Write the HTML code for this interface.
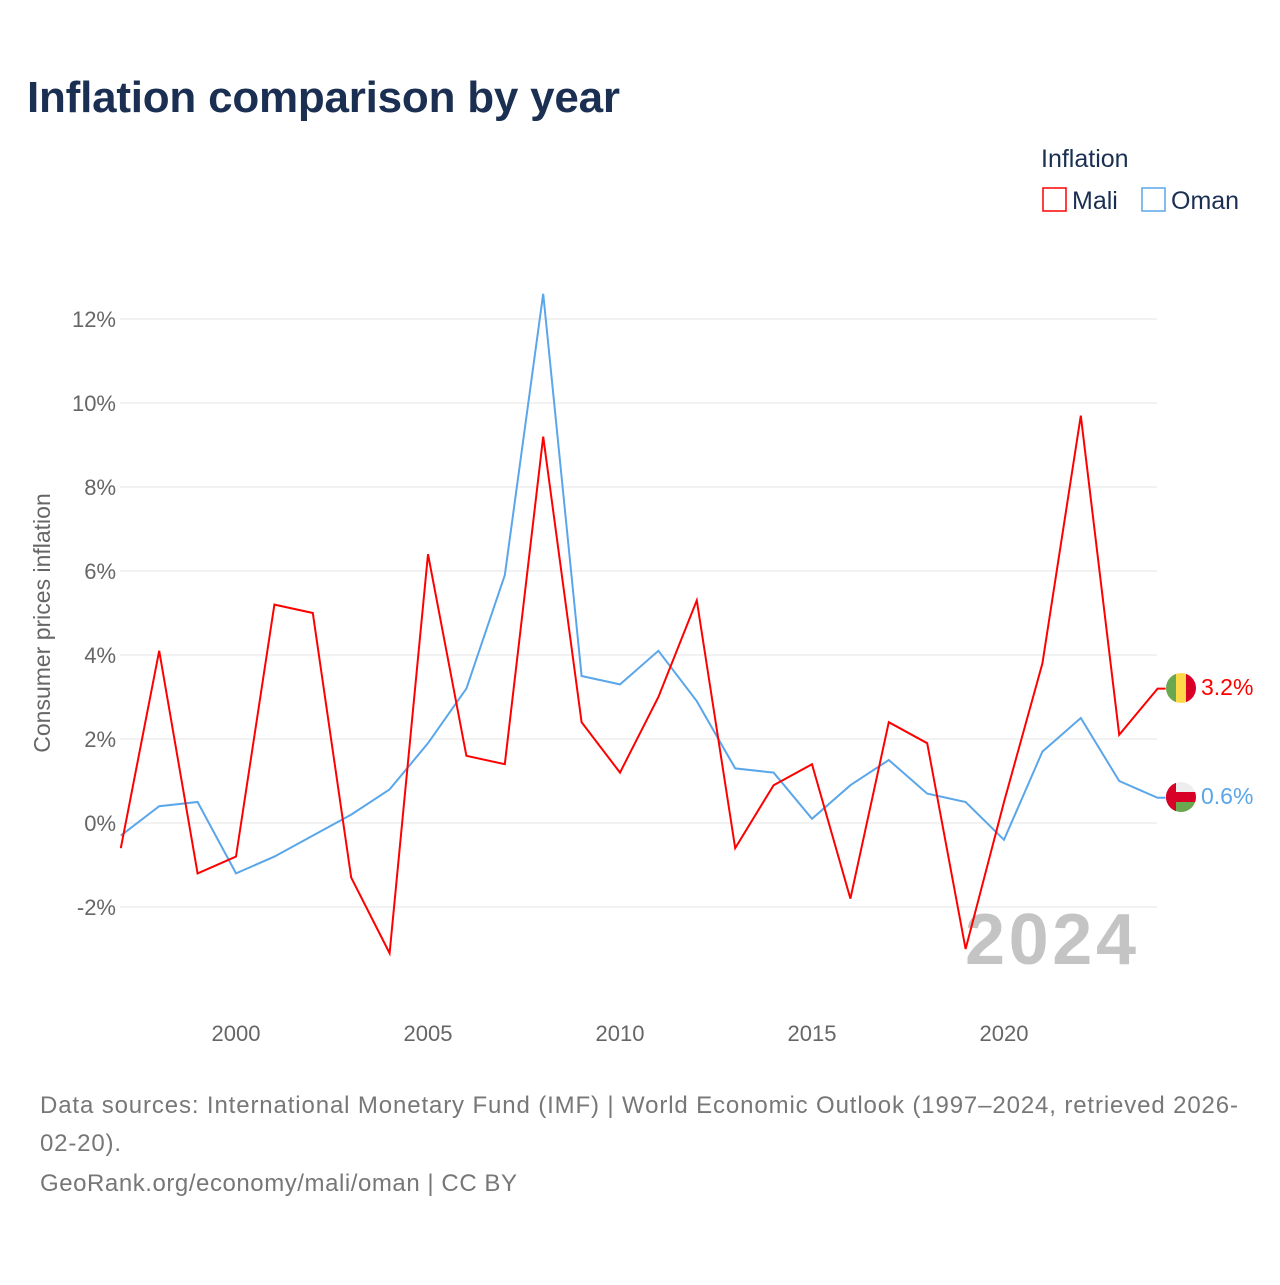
<!DOCTYPE html>
<html><head><meta charset="utf-8"><style>
body{margin:0;background:#fff;font-family:"Liberation Sans",sans-serif}
</style></head><body>
<svg id="c" width="1280" height="1280" xmlns="http://www.w3.org/2000/svg">
<text x="27" y="112" font-size="44" font-weight="bold" fill="#1a2f52" textLength="593">Inflation comparison by year</text>
<text x="1041" y="167" font-size="25" fill="#1a2f52">Inflation</text>
<g><rect x="1043" y="188" width="23" height="23" fill="none" stroke="#ff0000" stroke-width="1.5"/><text x="1072" y="209" font-size="25" fill="#1a2f52">Mali</text></g>
<g><rect x="1142" y="188" width="23" height="23" fill="none" stroke="#5aa6ea" stroke-width="1.5"/><text x="1171" y="209" font-size="25" fill="#1a2f52">Oman</text></g>
<g id="grid"></g><g id="yt"></g><g id="xt"></g>
<text x="965" y="964" font-size="72" font-weight="bold" fill="#c4c4c4" textLength="171">2024</text>
<g id="lines"></g>
<text transform="translate(50,623) rotate(-90)" font-size="23" fill="#666" text-anchor="middle">Consumer prices inflation</text>
<g font-size="24" fill="#777">
<text x="40" y="1113" textLength="1198">Data sources: International Monetary Fund (IMF) | World Economic Outlook (1997–2024, retrieved 2026-</text>
<text x="40" y="1151" textLength="81">02-20).</text>
<text x="40" y="1191" textLength="477">GeoRank.org/economy/mali/oman | CC BY</text></g>
<g><clipPath id="cm"><circle cx="1181" cy="688" r="15"/></clipPath><g clip-path="url(#cm)"><rect x="1166" y="673" width="10" height="30" fill="#6aa84f"/><rect x="1176" y="673" width="10" height="30" fill="#ffd84a"/><rect x="1186" y="673" width="10" height="30" fill="#d80027"/></g></g>
<g><clipPath id="co"><circle cx="1181" cy="797" r="15"/></clipPath><g clip-path="url(#co)"><rect x="1166" y="782" width="30" height="30" fill="#eee"/><rect x="1166" y="792" width="30" height="10" fill="#d80027"/><rect x="1166" y="802" width="30" height="10" fill="#6aa84f"/><rect x="1166" y="782" width="10" height="30" fill="#d80027"/></g></g>
<text x="1201" y="695" font-size="23" fill="#ff0000">3.2%</text>
<text x="1201" y="804" font-size="23" fill="#5aa6ea">0.6%</text>
</svg>
<script>
const years=[1997,1998,1999,2000,2001,2002,2003,2004,2005,2006,2007,2008,2009,2010,2011,2012,2013,2014,2015,2016,2017,2018,2019,2020,2021,2022,2023,2024];
const mali=[-0.6,4.1,-1.2,-0.8,5.2,5.0,-1.3,-3.1,6.4,1.6,1.4,9.2,2.4,1.2,3.0,5.3,-0.6,0.9,1.4,-1.8,2.4,1.9,-3.0,0.5,3.8,9.7,2.1,3.2];
const oman=[-0.3,0.4,0.5,-1.2,-0.8,-0.3,0.2,0.8,1.9,3.2,5.9,12.6,3.5,3.3,4.1,2.9,1.3,1.2,0.1,0.9,1.5,0.7,0.5,-0.4,1.7,2.5,1.0,0.6];
const yTicks=[-2,0,2,4,6,8,10,12];
const xTicks=[2000,2005,2010,2015,2020];
const NS="http://www.w3.org/2000/svg";
const X=y=>236+(y-2000)*38.4, Y=v=>823-v*42;
function mk(t,a,p){const e=document.createElementNS(NS,t);for(const k in a)e.setAttribute(k,a[k]);document.getElementById(p).appendChild(e);return e;}
yTicks.forEach(v=>{
 const l=mk('line',{x1:120,x2:1157,y1:Y(v),y2:Y(v),stroke:'#e6e6e6','stroke-width':1},'grid');
 
 
 const t=mk('text',{x:116,y:Y(v)+8,'font-size':22,fill:'#666','text-anchor':'end'},'yt');
 t.textContent=v+'%';
 
 
});
xTicks.forEach(v=>{
 const t=mk('text',{x:X(v),y:1041,'font-size':22,fill:'#666','text-anchor':'middle'},'xt');
 t.textContent=v;
 
 
});
[[oman,'#5aa6ea','oman-line'],[mali,'#ff0000','mali-line']].forEach(([d,c,n])=>{
 const p=mk('polyline',{points:d.map((v,i)=>X(years[i])+','+Y(v)).join(' ')+' '+(X(2024)+8)+','+Y(d[d.length-1]),fill:'none',stroke:c,'stroke-width':2,'stroke-linejoin':'miter'},'lines');
 
 
});
</script>
</body></html>
